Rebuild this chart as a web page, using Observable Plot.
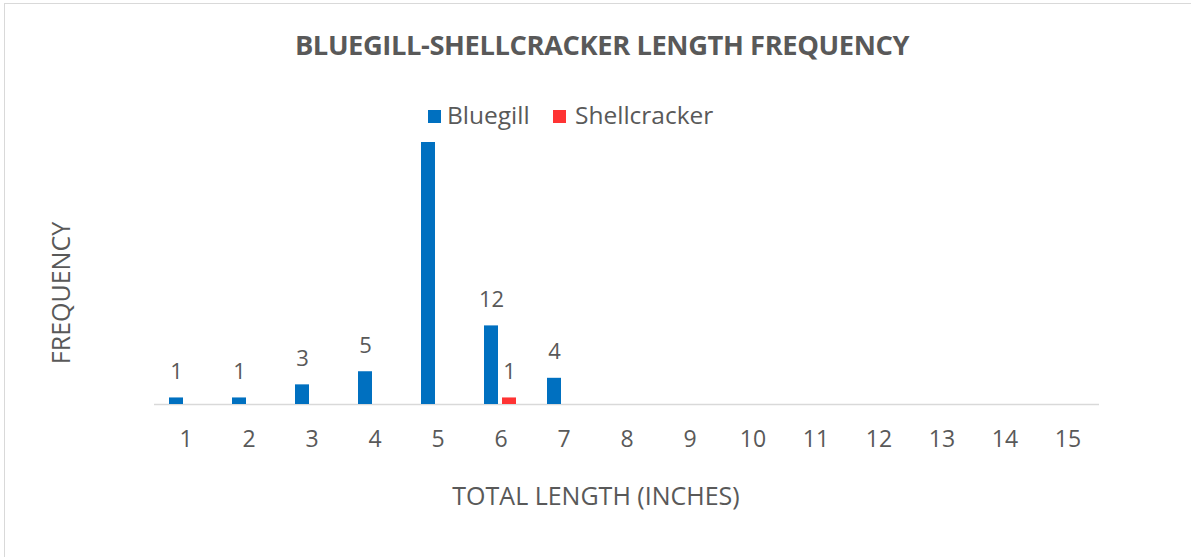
<!DOCTYPE html>
<html>
<head>
<meta charset="utf-8">
<script src="https://cdn.jsdelivr.net/npm/d3@7"></script>
<script src="https://cdn.jsdelivr.net/npm/@observablehq/plot@0.6"></script>
<style>
  html, body { margin: 0; padding: 0; background: #fff; width: 1191px; height: 557px; overflow: hidden; font-family: "Open Sans", sans-serif; color: #595959; }
  #frame { position: absolute; left: 4px; top: 3px; width: 1400px; height: 700px; border: 1px solid #d9d9d9; box-sizing: border-box; }
  #title { position: absolute; left: 0; width: 1204px; top: 26px; text-align: center; font-weight: 700; font-size: 27.3px; letter-spacing: -0.4px; color: #595959; white-space: nowrap; }
  #legend { position: absolute; left: 0; top: 100px; width: 1191px; height: 32px; }
  .sw { position: absolute; width: 13px; height: 13px; top: 10px; }
  .lt { position: absolute; top: -1px; font-size: 24.5px; line-height: 32px; color: #595959; white-space: nowrap; }
  #chart { position: absolute; left: 0; top: 130px; }
  #xlabel { position: absolute; left: 396px; width: 400px; top: 478px; text-align: center; font-size: 25px; line-height: 34px; color: #595959; white-space: nowrap; }
  #ylabel { position: absolute; left: -140px; width: 400px; top: 276px; text-align: center; font-size: 25px; line-height: 34px; color: #595959; white-space: nowrap; transform: rotate(-90deg); transform-origin: 200px 17px; }
</style>
</head>
<body>
<div id="frame"></div>
<div id="title">BLUEGILL-SHELLCRACKER LENGTH FREQUENCY</div>
<div id="legend"></div>
<div id="chart"></div>
<div id="xlabel">TOTAL LENGTH (INCHES)</div>
<div id="ylabel">FREQUENCY</div>
<script>
const lengths = [1, 2, 3, 4, 5, 6, 7, 8, 9, 10, 11, 12, 13, 14, 15];
const seriesNames = ["Bluegill", "Shellcracker"];
const seriesColors = ["#0070C0", "#FF3333"];
const bluegill = [1, 1, 3, 5, 40, 12, 4, null, null, null, null, null, null, null, null];
const shellcracker = [null, null, null, null, null, 1, null, null, null, null, null, null, null, null, null];
const yMax = 40;

const rows = [];
lengths.forEach((len, i) => {
  [bluegill, shellcracker].forEach((vals, s) => {
    if (vals[i] != null) rows.push({length: len, series: seriesNames[s], value: vals[i]});
  });
});

// legend
const legend = document.getElementById("legend");
const legendPos = [{sw: 428, tx: 447}, {sw: 553, tx: 575}];
seriesNames.forEach((name, i) => {
  const sw = document.createElement("div");
  sw.className = "sw"; sw.style.left = legendPos[i].sw + "px"; sw.style.background = seriesColors[i];
  const t = document.createElement("div");
  t.className = "lt"; t.style.left = legendPos[i].tx + "px"; t.textContent = name;
  legend.appendChild(sw); legend.appendChild(t);
});

const chart = Plot.plot({
  width: 1191,
  height: 427,
  marginTop: 12,
  marginBottom: 153,
  marginLeft: 150,
  marginRight: 88,
  style: {fontFamily: "Open Sans, sans-serif", fontSize: "23px", color: "#595959", background: "transparent"},
  fx: {domain: lengths, padding: 0, tickSize: 0, tickPadding: 26, label: null, axis: "bottom"},
  x: {domain: seriesNames, paddingInner: 0.216, paddingOuter: 0.824, axis: null},
  y: {domain: [0, yMax], axis: null},
  color: {domain: seriesNames, range: seriesColors},
  marks: [
    Plot.ruleY(lengths, {fx: d => d, y: 0, stroke: "#d9d9d9", strokeWidth: 1.5}),
    Plot.barY(rows, {fx: "length", x: "series", y: "value", fill: "series"}),
    Plot.text(rows.filter(d => d.value < yMax), {fx: "length", x: "series", y: "value", text: d => String(d.value), lineAnchor: "bottom", dy: -19, fill: "#595959", fontSize: 22})
  ]
});
document.getElementById("chart").appendChild(chart);
</script>
</body>
</html>
